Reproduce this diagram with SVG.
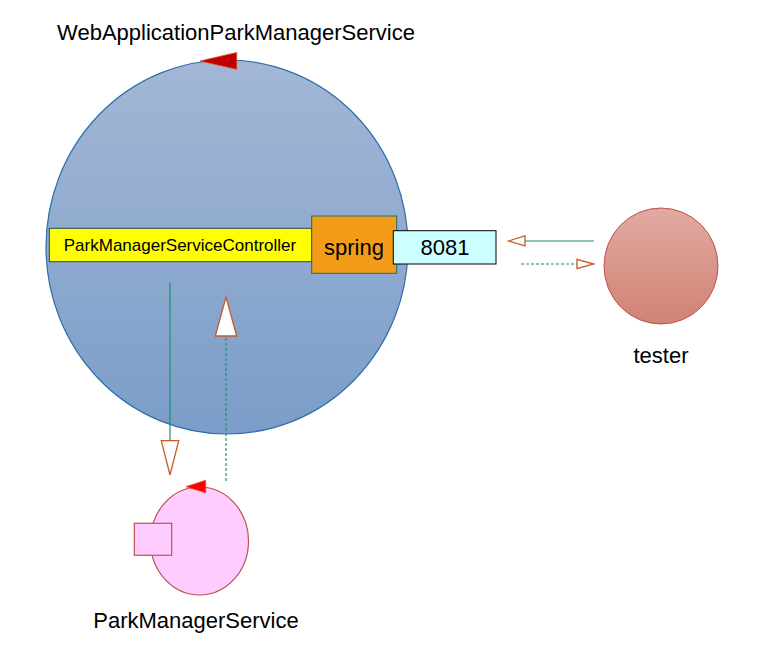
<svg xmlns="http://www.w3.org/2000/svg" width="767" height="655" viewBox="0 0 767 655">
<defs>
<linearGradient id="gBlue" x1="0" y1="0" x2="0" y2="1">
<stop offset="0" stop-color="#a3b7d5"/>
<stop offset="1" stop-color="#7b9dc9"/>
</linearGradient>
<linearGradient id="gRed" x1="0" y1="0" x2="0" y2="1">
<stop offset="0" stop-color="#e2aaa2"/>
<stop offset="1" stop-color="#cf8373"/>
</linearGradient>
<style>
text{font-family:"Liberation Sans",Arial,sans-serif;fill:#000}
.lbl{font-size:22px}
.head{fill:#fff;stroke:#c55a2b;stroke-width:1.3}
.line{stroke:#1e9070;stroke-width:1.2;fill:none}
.dash{stroke-dasharray:3,2}
</style>
</defs>
<g id="WebApplicationParkManagerService">
<ellipse cx="227" cy="247" rx="181" ry="187" fill="url(#gBlue)" stroke="#2f6ea8" stroke-width="1.2"/>
<polygon points="200,61 236.7,52.5 236.7,69.3" fill="#c00000" stroke="#d05020" stroke-width="0.8"/>
<text class="lbl" x="236" y="40" text-anchor="middle">WebApplicationParkManagerService</text>
</g>
<g id="ParkManagerServiceController">
<rect x="49.3" y="228.3" width="262.4" height="33.4" fill="#ffff00" stroke="#1a5050" stroke-width="1"/>
<text x="180" y="251" font-size="17" text-anchor="middle">ParkManagerServiceController</text>
</g>
<g id="spring">
<rect x="311.7" y="216" width="85" height="57.3" fill="#f39c1a" stroke="#1a6e5e" stroke-width="1"/>
<text x="354" y="255" font-size="22" text-anchor="middle">spring</text>
</g>
<g id="port8081">
<rect x="393.3" y="230.7" width="102.7" height="33.3" fill="#ccffff" stroke="#000" stroke-width="1"/>
<text x="445" y="255" font-size="22" text-anchor="middle">8081</text>
</g>
<g id="tester">
<ellipse cx="661" cy="266" rx="57" ry="58" fill="url(#gRed)" stroke="#c0504d" stroke-width="1"/>
<text class="lbl" x="661" y="363" text-anchor="middle">tester</text>
</g>
<g id="ParkManagerService">
<ellipse cx="199.5" cy="541" rx="49" ry="54" fill="#ffccff" stroke="#c0504d" stroke-width="1.2"/>
<polygon points="186,486.7 205.7,480.3 205.7,492.7" fill="#ff0000" stroke="#d05020" stroke-width="0.8"/>
<rect x="134.3" y="523.3" width="37.4" height="32" fill="#ffccff" stroke="#c0504d" stroke-width="1.2"/>
<text class="lbl" x="196" y="628" text-anchor="middle">ParkManagerService</text>
</g>
<g id="connectors">
<line class="line" x1="594" y1="241" x2="525" y2="241"/>
<polygon class="head" points="508.5,241 525,236 525,245.8"/>
<line class="line dash" x1="521" y1="264" x2="577" y2="264"/>
<polygon class="head" points="593.5,264 577,259.3 577,268.7"/>
<line class="line" x1="170" y1="283" x2="170" y2="441"/>
<polygon class="head" points="161.3,440.7 178.7,440.7 170,475"/>
<line class="line dash" x1="226" y1="481" x2="226" y2="336"/>
<polygon class="head" points="226,297 215.3,336 236.7,336"/>
</g>
</svg>
